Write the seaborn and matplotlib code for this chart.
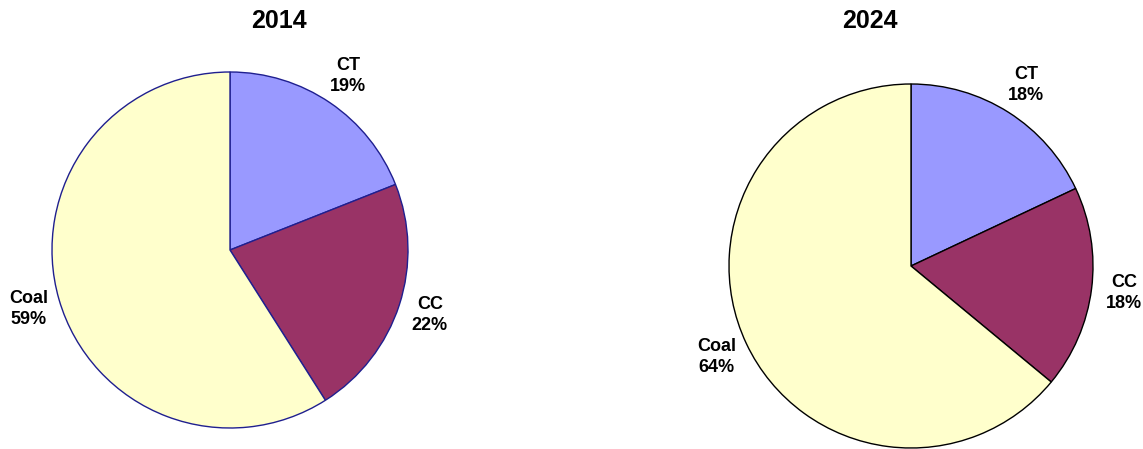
import matplotlib
matplotlib.use("Agg")
import matplotlib.pyplot as plt
import seaborn as sns

sns.set_theme(style="white")
plt.rcParams["font.family"] = ["Liberation Sans", "DejaVu Sans"]

categories = ["CT", "CC", "Coal"]
share_2014 = [19, 22, 59]
share_2024 = [18, 18, 64]
years = ["2014", "2024"]
colors = ["#9999FF", "#993366", "#FFFFCC"]

W, H = 1143, 449
fig = plt.figure(figsize=(W / 100, H / 100), dpi=100)
LIM = 1.4


def pie_axes(cx, cy, r):
    side = 2 * r * LIM
    return fig.add_axes([(cx - side / 2) / W, (H - cy - side / 2) / H, side / W, side / H])


def draw(ax, values, edge):
    labels = [f"{c}\n{v}%" for c, v in zip(categories, values)]
    wedges, texts = ax.pie(
        values, labels=labels, colors=colors, startangle=90, counterclock=False,
        labeldistance=1.18,
        wedgeprops=dict(edgecolor=edge, linewidth=1.0),
        textprops=dict(fontsize=13, fontweight="bold", color="black", linespacing=1.3),
    )
    for t in texts:
        t.set_ha("center")
        t.set_va("center")
        t.set_clip_on(False)
    ax.set_xlim(-LIM, LIM)
    ax.set_ylim(-LIM, LIM)
    ax.set_aspect("equal")
    ax.axis("off")


ax1 = pie_axes(230, 250, 178)
draw(ax1, share_2014, "#1F1F8F")
ax2 = pie_axes(911, 266, 182)
draw(ax2, share_2024, "black")

fig.text(279 / W, 1 - 21 / H, years[0], ha="center", va="center",
         fontsize=18, fontweight="bold", color="black")
fig.text(870 / W, 1 - 21 / H, years[1], ha="center", va="center",
         fontsize=18, fontweight="bold", color="black")

fig.savefig("out.png", dpi=100, facecolor="white")
